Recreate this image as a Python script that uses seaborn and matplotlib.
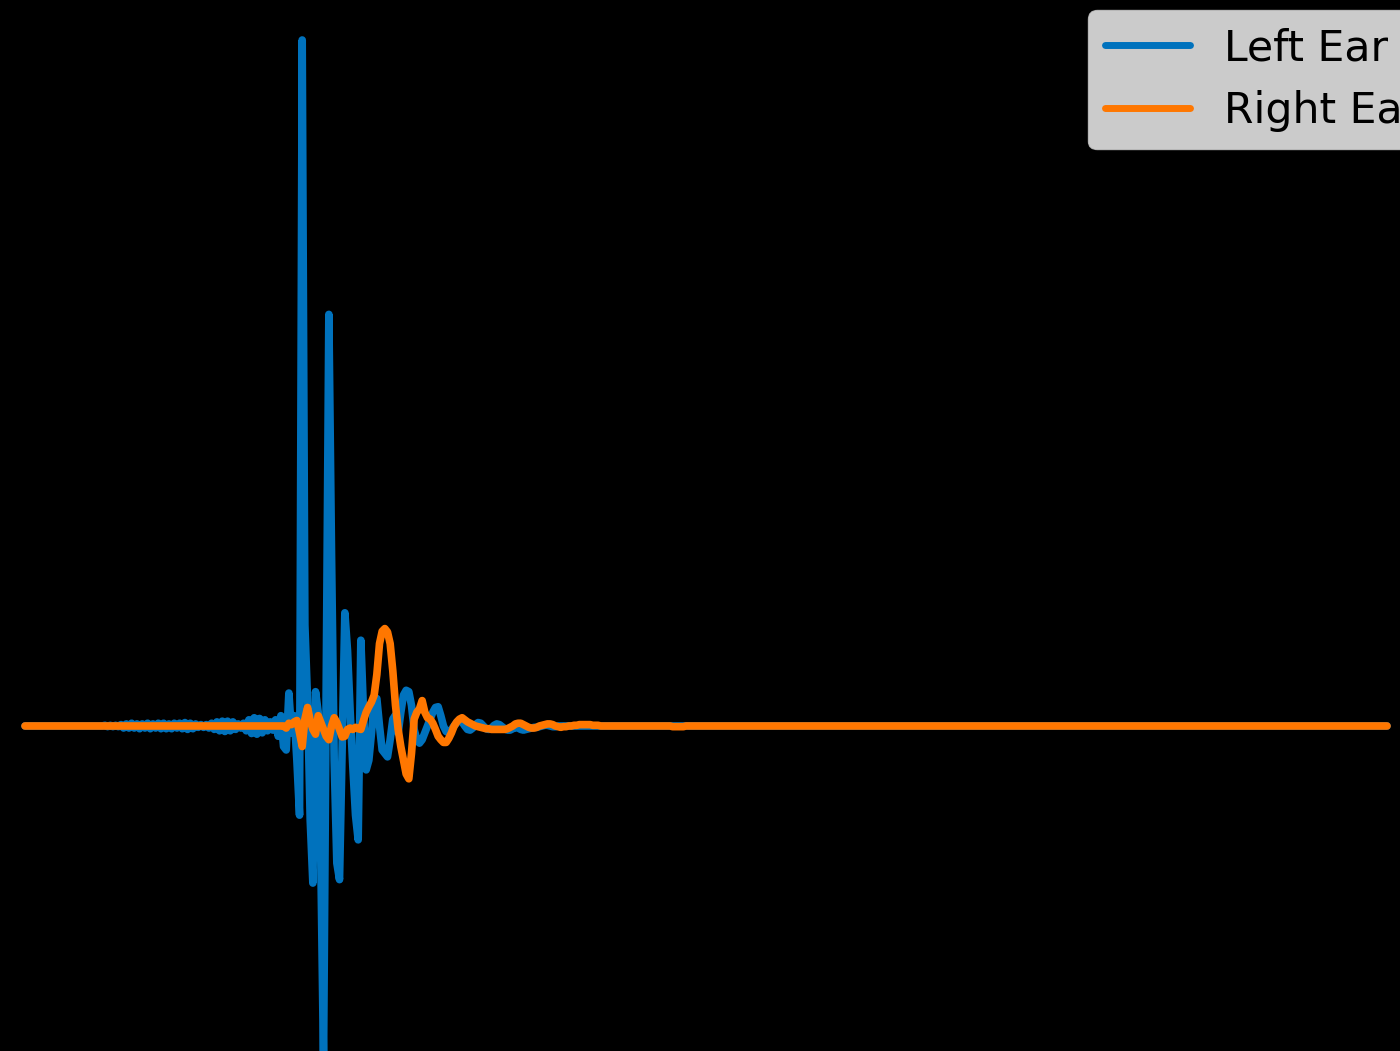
import matplotlib
matplotlib.use("Agg")
import matplotlib.pyplot as plt
import pandas as pd
import seaborn as sns

# Head-related impulse response, one value per sample (flat tail ends at sample 511)
sample = list(range(261)) + [511]

left_ear = [
    0, 0, 0, 0, 0, 0, 0, 0, 0, 0,
    0, 0, 0, 0, 0, 0, 0, 0, 0, 0,
    0, 0, 0, 0, 0, 0, 0, 0, 0, 0,
    0.001, -0.001, 0.001, -0.001, 0.001, -0.001, 0.002, -0.003, 0.003, -0.003,
    0.004, -0.003, 0.003, -0.004, 0.003, -0.003, 0.004, -0.004, 0.003, -0.003,
    0.004, -0.004, 0.004, -0.004, 0.003, -0.004, 0.004, -0.003, 0.004, -0.004,
    0.005, -0.005, 0.004, -0.004, 0.003, -0.002, 0.002, -0.002, 0.002, -0.003,
    0.004, -0.005, 0.006, -0.007, 0.007, -0.008, 0.007, -0.007, 0.006, -0.005,
    0.003, -0.003, 0.004, -0.007, 0.009, -0.011, 0.012, -0.012, 0.011, -0.010,
    0.009, -0.007, 0.006, -0.006, 0.009, -0.015, 0.015, -0.030, -0.035, 0.048,
    -0.010, 0.015, -0.050, -0.130, 1.000, 0.147, 0.038, -0.137, -0.229, 0.050,
    0.020, -0.200, -0.490, 0.050, 0.600, 0.250, -0.050, -0.200, -0.224, -0.030,
    0.165, 0.110, 0.020, -0.060, -0.130, -0.166, 0.125, 0.020, -0.064, -0.050,
    -0.010, 0.035, 0.040, 0.000, -0.035, -0.040, -0.045, -0.020, 0.010, 0.016,
    -0.010, 0.020, 0.045, 0.052, 0.050, 0.030, -0.005, -0.020, -0.025, -0.020,
    -0.010, 0.000, 0.010, 0.020, 0.027, 0.028, 0.015, 0.000, -0.008, -0.010,
    -0.005, 0.000, 0.005, 0.008, 0.006, 0.000, -0.005, -0.006, -0.003, 0.002,
    0.005, 0.004, 0.000, -0.004, -0.005, -0.003, 0.001, 0.003, 0.002, -0.001,
    -0.004, -0.006, -0.006, -0.004, -0.002, -0.003, -0.005, -0.006, -0.005, -0.004,
    -0.003, -0.002, -0.002, -0.001, 0.000, 0.001, 0.001, 0.000, -0.001, -0.001,
    0, 0, 0, 0, 0, 0, 0, 0, 0, 0,
    0, 0, 0, 0, 0, 0, 0, 0, 0, 0,
    0, 0, 0, 0, 0, 0, 0, 0, 0, 0,
    0, 0, 0, 0, 0, 0, 0, 0, 0, 0,
    0, 0, 0, 0, 0, 0, 0, 0, 0, 0,
    0, 0, 0, 0, 0, 0, 0, 0, 0, 0,
    0,
    0,
]

right_ear = [
    0, 0, 0, 0, 0, 0, 0, 0, 0, 0,
    0, 0, 0, 0, 0, 0, 0, 0, 0, 0,
    0, 0, 0, 0, 0, 0, 0, 0, 0, 0,
    0, 0, 0, 0, 0, 0, 0, 0, 0, 0,
    0, 0, 0, 0, 0, 0, 0, 0, 0, 0,
    0, 0, 0, 0, 0, 0, 0, 0, 0, 0,
    0, 0, 0, 0, 0, 0, 0, 0, 0, 0,
    0, 0, 0, 0, 0, 0, 0, 0, 0, 0,
    0, 0, 0, 0, 0, 0, 0, 0, 0, 0,
    0, 0, 0, 0, 0, 0, 0, 0, -0.003, 0.004,
    0.002, 0.006, 0.008, -0.010, -0.030, 0.010, 0.027, 0.008, -0.005, -0.012,
    0.015, 0.005, -0.005, -0.015, -0.020, 0.000, 0.012, 0.005, -0.005, -0.016,
    -0.015, -0.005, -0.003, -0.005, -0.002, -0.004, -0.005, 0.008, 0.020, 0.028,
    0.035, 0.045, 0.075, 0.120, 0.138, 0.142, 0.137, 0.120, 0.080, 0.030,
    -0.005, -0.030, -0.050, -0.070, -0.077, -0.040, 0.010, 0.020, 0.025, 0.037,
    0.020, 0.012, 0.010, 0.004, -0.005, -0.015, -0.020, -0.024, -0.024, -0.018,
    -0.010, 0.000, 0.006, 0.010, 0.012, 0.009, 0.006, 0.004, 0.002, 0.000,
    -0.001, -0.002, -0.003, -0.004, -0.004, -0.005, -0.005, -0.005, -0.005, -0.005,
    -0.005, -0.004, -0.002, 0.000, 0.003, 0.004, 0.004, 0.002, 0.000, -0.002,
    -0.003, -0.003, -0.002, 0.000, 0.001, 0.002, 0.003, 0.003, 0.002, 0.000,
    -0.001, -0.002, -0.001, -0.001, 0.000, 0.000, 0.001, 0.001, 0.002, 0.002,
    0.002, 0.002, 0.002, 0.001, 0.001, 0.001, 0.000, 0.000, 0.000, 0.000,
    0, 0, 0, 0, 0, 0, 0, 0, 0, 0,
    0, 0, 0, 0, 0, 0, 0, 0, 0, 0,
    0, 0, 0, -0.001, -0.001, -0.001, -0.001, -0.001, 0, 0,
    0, 0, 0, 0, 0, 0, 0, 0, 0, 0,
    0,
    0,
]

ear_labels = ["Left Ear", "Right Ear"]
ear_colors = ["#0072BD", "#FF7700"]

df = pd.concat(
    [
        pd.DataFrame({"sample": sample, "amplitude": left_ear, "ear": ear_labels[0]}),
        pd.DataFrame({"sample": sample, "amplitude": right_ear, "ear": ear_labels[1]}),
    ],
    ignore_index=True,
)

sns.set_style("white")
plt.rcParams["font.family"] = ["DejaVu Sans"]

fig = plt.figure(figsize=(14, 10.51), dpi=100, facecolor="black")
ax = fig.add_axes([0, 0, 1, 1])
ax.set_facecolor("black")

sns.lineplot(
    data=df, x="sample", y="amplitude", hue="ear", hue_order=ear_labels,
    palette=ear_colors, linewidth=5.5, estimator=None, sort=False, ax=ax,
)

ax.set_xlim(-9.38, 515.87)
ax.set_ylim(-0.4738, 1.0583)
ax.set_axis_off()

handles, labels = ax.get_legend_handles_labels()
leg = ax.legend(
    handles, labels, loc="upper left",
    bbox_to_anchor=(1088 / 1400, 1 - 10 / 1051), bbox_transform=fig.transFigure,
    borderaxespad=0, fontsize=30.7, facecolor="white", edgecolor="0.8", framealpha=0.8,
)
for line in leg.get_lines():
    line.set_linewidth(5.0)
for text in leg.get_texts():
    text.set_color("black")

fig.savefig("out.png", dpi=100, facecolor="black")
